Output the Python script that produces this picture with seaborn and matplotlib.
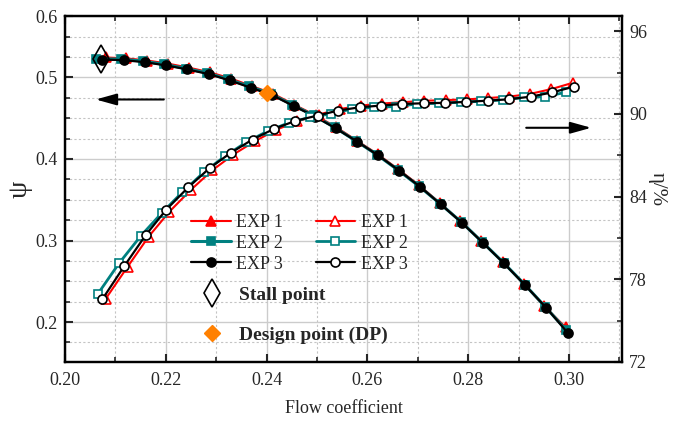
import numpy as np
import pandas as pd
import matplotlib
matplotlib.use("Agg")
import matplotlib.pyplot as plt
import seaborn as sns
from matplotlib.ticker import MultipleLocator, FixedLocator
from matplotlib.lines import Line2D

# ---------------- data ----------------
# pressure coefficient psi (left axis)
phi_psi_exp1 = [0.2081, 0.2121, 0.2163, 0.2204, 0.2246, 0.2288, 0.2330, 0.2371, 0.2413, 0.2455, 0.2497, 0.2538,
                0.2579, 0.2620, 0.2661, 0.2702, 0.2743, 0.2784, 0.2826, 0.2868, 0.2910, 0.2951, 0.2993]
psi_exp1 = [0.5245, 0.5235, 0.5208, 0.5170, 0.5120, 0.5062, 0.4985, 0.4893, 0.4800, 0.4665, 0.4535, 0.4390,
            0.4225, 0.4060, 0.3875, 0.3680, 0.3465, 0.3240, 0.2995, 0.2740, 0.2470, 0.2195, 0.1935]
phi_psi_exp2 = [0.2062, 0.2112, 0.2155, 0.2197, 0.2240, 0.2282, 0.2324, 0.2366, 0.2408, 0.2451, 0.2493, 0.2535,
                0.2577, 0.2619, 0.2661, 0.2702, 0.2744, 0.2786, 0.2828, 0.2870, 0.2912, 0.2953, 0.2994]
psi_exp2 = [0.5230, 0.5225, 0.5200, 0.5160, 0.5110, 0.5055, 0.4978, 0.4890, 0.4800, 0.4665, 0.4535, 0.4388,
            0.4222, 0.4052, 0.3862, 0.3668, 0.3452, 0.3228, 0.2980, 0.2728, 0.2460, 0.2185, 0.1905]
phi_psi_exp3 = [0.2074, 0.2117, 0.2159, 0.2201, 0.2243, 0.2286, 0.2327, 0.2369, 0.2411, 0.2454, 0.2496, 0.2537,
                0.2580, 0.2621, 0.2663, 0.2704, 0.2745, 0.2787, 0.2829, 0.2871, 0.2913, 0.2955, 0.2997]
psi_exp3 = [0.5220, 0.5212, 0.5187, 0.5147, 0.5098, 0.5040, 0.4963, 0.4873, 0.4783, 0.4649, 0.4520, 0.4376,
            0.4212, 0.4045, 0.3857, 0.3661, 0.3446, 0.3220, 0.2972, 0.2719, 0.2450, 0.2173, 0.1870]

# efficiency eta in % (right axis)
phi_eta_exp1 = [0.2081, 0.2124, 0.2166, 0.2207, 0.2250, 0.2292, 0.2334, 0.2376, 0.2419, 0.2461, 0.2503, 0.2545,
                0.2587, 0.2629, 0.2671, 0.2713, 0.2755, 0.2797, 0.2839, 0.2881, 0.2923, 0.2965, 0.3007]
eta_exp1 = [76.6, 78.9, 81.1, 82.9, 84.5, 85.9, 87.05, 88.0, 88.85, 89.45, 89.95, 90.35,
            90.6, 90.75, 90.85, 90.95, 91.0, 91.05, 91.15, 91.25, 91.45, 91.8, 92.25]
phi_eta_exp2 = [0.2065, 0.2107, 0.2150, 0.2192, 0.2233, 0.2276, 0.2318, 0.2360, 0.2402, 0.2444, 0.2486, 0.2527,
                0.2570, 0.2613, 0.2656, 0.2699, 0.2742, 0.2785, 0.2825, 0.2868, 0.2911, 0.2952, 0.2993]
eta_exp2 = [76.93, 79.15, 81.13, 82.81, 84.33, 85.78, 86.95, 87.95, 88.75, 89.35, 89.75, 90.0,
            90.36, 90.48, 90.53, 90.72, 90.77, 90.84, 90.91, 91.01, 91.2, 91.25, 91.56]
phi_eta_exp3 = [0.2074, 0.2118, 0.2160, 0.2201, 0.2245, 0.2287, 0.2329, 0.2372, 0.2415, 0.2457, 0.2501, 0.2542,
                0.2585, 0.2626, 0.2669, 0.2712, 0.2754, 0.2796, 0.2839, 0.2881, 0.2924, 0.2967, 0.3009]
eta_exp3 = [76.55, 78.98, 81.20, 83.06, 84.69, 86.07, 87.18, 88.14, 88.92, 89.49, 89.88, 90.24,
            90.48, 90.60, 90.72, 90.77, 90.80, 90.87, 90.96, 91.06, 91.25, 91.56, 91.97]

stall_phi = [0.2071]
stall_psi = [0.5224]
design_phi = [0.2401]
design_psi = [0.4810]

series_labels = ["EXP 1", "EXP 2", "EXP 3"]
x_ticks = [0.20, 0.22, 0.24, 0.26, 0.28, 0.30]
x_tick_labels = ["0.20", "0.22", "0.24", "0.26", "0.28", "0.30"]
psi_ticks = [0.2, 0.3, 0.4, 0.5, 0.575]
psi_tick_labels = ["0.2", "0.3", "0.4", "0.5", "0.6"]
eta_ticks = [72, 78, 84, 90, 96]
eta_tick_labels = ["72", "78", "84", "90", "96"]

# ---------------- style ----------------
sns.set_style("ticks")
plt.rcParams['font.family'] = ['Liberation Serif', 'DejaVu Serif']
plt.rcParams['axes.unicode_minus'] = False

RED = '#FF0000'
TEAL = '#008080'
BLACK = '#000000'
ORANGE = '#FF8000'

fig = plt.figure(figsize=(6.88, 4.21), dpi=100)
ax = fig.add_axes([65 / 688, 59 / 421, 557 / 688, 346 / 421])
ax2 = ax.twinx()


def draw(axis, x, y, color, marker, filled, ms, lw, z):
    sns.lineplot(x=x, y=y, ax=axis, color=color, marker=marker, markersize=ms,
                 markerfacecolor=color if filled else 'white', markeredgecolor=color,
                 markeredgewidth=1.2, linewidth=lw, sort=False, estimator=None,
                 legend=False, zorder=z)
    return axis.lines[-1]


l1f = draw(ax, phi_psi_exp1, psi_exp1, RED, '^', True, 6.5, 1.5, 3)
l2f = draw(ax, phi_psi_exp2, psi_exp2, TEAL, 's', True, 6, 2.2, 4)
l3f = draw(ax, phi_psi_exp3, psi_exp3, BLACK, 'o', True, 6.5, 1.6, 5)

l1o = draw(ax2, phi_eta_exp1, eta_exp1, RED, '^', False, 6.5, 1.5, 3)
l2o = draw(ax2, phi_eta_exp2, eta_exp2, TEAL, 's', False, 5.5, 2.0, 4)
l3o = draw(ax2, phi_eta_exp3, eta_exp3, BLACK, 'o', False, 6.5, 1.6, 5)

# stall / design points
ax.plot(stall_phi, stall_psi, ls='none', marker='d', ms=14, mfc='none', mec='black', mew=1.2, zorder=6)
ax.plot(design_phi, design_psi, ls='none', marker='D', ms=8.5, mfc=ORANGE, mec=ORANGE, zorder=6)

# axes limits / ticks
ax.set_xlim(0.20, 0.3105)
ax.xaxis.set_major_locator(FixedLocator(x_ticks))
ax.set_xticklabels(x_tick_labels)
ax.xaxis.set_minor_locator(MultipleLocator(0.01))
ax.set_ylim(0.151, 0.5754)
ax.yaxis.set_major_locator(FixedLocator(psi_ticks))
ax.set_yticklabels(psi_tick_labels)
ax.yaxis.set_minor_locator(MultipleLocator(0.025))

ax2.set_ylim(72, 97.1)
ax2.yaxis.set_major_locator(FixedLocator(eta_ticks))
ax2.set_yticklabels(eta_tick_labels)
ax2.yaxis.set_minor_locator(MultipleLocator(3))

ax.grid(which='major', color='#cccccc', lw=1.0, ls='-')
ax.grid(which='minor', color='#c4c4c4', lw=0.8, ls=(0, (2, 2)))
ax.set_axisbelow(True)

ax.tick_params(axis='both', which='both', direction='in', top=True, right=False, width=1.5, labelsize=13)
ax.tick_params(which='major', length=6)
ax.tick_params(which='minor', length=3.5, width=1.2)
ax.tick_params(axis='x', pad=7)
ax.tick_params(axis='y', pad=5)
ax2.tick_params(axis='y', which='both', direction='in', width=1.5, labelsize=13, pad=5)
ax2.tick_params(which='major', length=6)
ax2.tick_params(which='minor', length=3.5, width=1.2)

for a in (ax, ax2):
    for s in a.spines.values():
        s.set_linewidth(1.6)
        s.set_color('black')

ax.set_xlabel("Flow coefficient", fontsize=13, labelpad=8)
ax.set_ylabel("ψ", fontsize=20, labelpad=2)
ax2.set_ylabel("η/%", fontsize=15, rotation=270, labelpad=14)
ax2.set_xlabel("")

# direction arrows
arrow_style = dict(arrowstyle='-|>,head_length=0.9,head_width=0.25', color='black', lw=1.5,
                   mutation_scale=14, shrinkA=0, shrinkB=0)
ax.annotate('', xy=(0.2061, 0.473), xytext=(0.2196, 0.473), arrowprops=arrow_style, zorder=7)
ax.annotate('', xy=(0.3044, 0.4383), xytext=(0.2915, 0.4383), arrowprops=arrow_style, zorder=7)

# legends
leg1 = ax2.legend(handles=[l1f, l2f, l3f, l1o, l2o, l3o], labels=series_labels * 2, ncol=2,
                  frameon=False, fontsize=13, handlelength=2.2, handletextpad=0.3,
                  columnspacing=1.8, labelspacing=0.21, borderpad=0, borderaxespad=0,
                  loc='upper left', bbox_to_anchor=(191 / 688, 1 - 214 / 421),
                  bbox_transform=fig.transFigure)
ax2.add_artist(leg1)

h_stall = Line2D([], [], ls='none', marker='d', ms=14, mfc='white', mec='black', mew=1.2)
h_design = Line2D([], [], ls='none', marker='D', ms=8.5, mfc=ORANGE, mec=ORANGE)
leg2 = ax2.legend(handles=[h_stall, h_design], labels=["Stall point", "Design point (DP)"],
                  frameon=False, prop={'weight': 'bold', 'size': 14}, handlelength=2.2,
                  handletextpad=0.25, labelspacing=1.16, borderpad=0, borderaxespad=0,
                  loc='upper left', bbox_to_anchor=(191 / 688, 1 - 286 / 421),
                  bbox_transform=fig.transFigure)

fig.savefig("out.png", dpi=100)
